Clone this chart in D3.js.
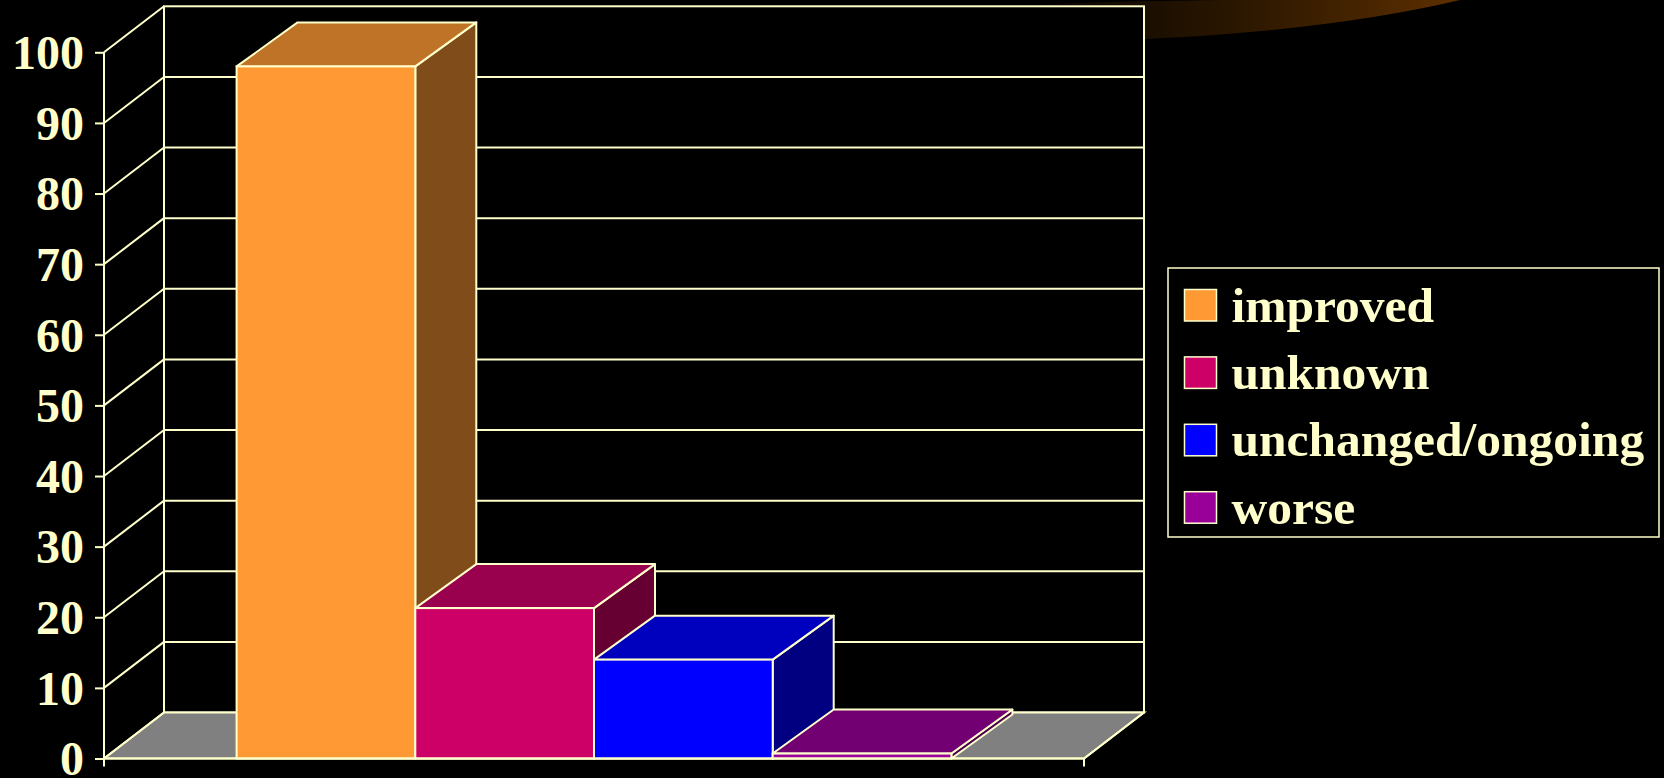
<!DOCTYPE html>
<html>
<head>
<meta charset="utf-8">
<script src="https://cdn.jsdelivr.net/npm/d3@7"></script>
<style>
  html, body { margin: 0; padding: 0; background: #000; overflow: hidden; }
  svg { display: block; }
</style>
</head>
<body>
<svg id="chart" width="1664" height="778"></svg>
<script>
// ---- data ----
const categories = ["improved", "unknown", "unchanged/ongoing", "worse"];
const values = [98, 21.3, 14, 0.7];
const yTickValues = [0, 10, 20, 30, 40, 50, 60, 70, 80, 90, 100];
const frontColors = ["#FF9933", "#CC0066", "#0000FF", "#990099"];

// ---- setup ----
const svg = d3.select("#chart");
const cream = "#FFFFCC";
const LW = 2;

// decorative background swoosh (top right)
const defs = svg.append("defs");
const grad = defs.append("linearGradient").attr("id", "swoosh")
  .attr("x1", "0%").attr("x2", "100%").attr("y1", "0%").attr("y2", "0%");
grad.append("stop").attr("offset", "0%").attr("stop-color", "#0a0000");
grad.append("stop").attr("offset", "12%").attr("stop-color", "#120a00");
grad.append("stop").attr("offset", "45%").attr("stop-color", "#2a1600");
grad.append("stop").attr("offset", "80%").attr("stop-color", "#4a2600");
grad.append("stop").attr("offset", "100%").attr("stop-color", "#5e3000");
svg.append("path")
  .attr("d", "M1046,4 L1046,42 Q1300,38 1460,0 L1230,0 Q1120,1 1046,4 Z")
  .attr("fill", "url(#swoosh)");

// scales
const xFront0 = 104, xFront1 = 1084;
const y = d3.scaleLinear().domain([0, 100]).range([758.5, 52.3]);
const x = d3.scaleBand().domain(categories).range([xFront0, xFront1])
  .paddingInner(0).paddingOuter(0.742);
const WDX = 60, WDY = -46;   // wall depth offset
const BDX = 61, BDY = -44;   // bar depth offset

const g = svg.append("g");
const line = (pts) => "M" + pts.map(p => p.join(",")).join("L") + "Z";
const open = (pts) => "M" + pts.map(p => p.join(",")).join("L");

// back wall
g.append("rect")
  .attr("x", xFront0 + WDX).attr("y", y(100) + WDY)
  .attr("width", xFront1 - xFront0).attr("height", y(0) - y(100))
  .attr("fill", "#000").attr("stroke", cream).attr("stroke-width", LW);

// floor
g.append("path")
  .attr("d", line([[xFront0, y(0)], [xFront1, y(0)], [xFront1 + WDX, y(0) + WDY], [xFront0 + WDX, y(0) + WDY]]))
  .attr("fill", "#808080").attr("stroke", cream).attr("stroke-width", LW);

// gridlines on back wall and left wall
yTickValues.forEach(v => {
  if (v > 0 && v < 100) {
    g.append("line")
      .attr("x1", xFront0 + WDX).attr("x2", xFront1 + WDX)
      .attr("y1", y(v) + WDY).attr("y2", y(v) + WDY)
      .attr("stroke", cream).attr("stroke-width", LW);
  }
  g.append("line")
    .attr("x1", xFront0).attr("y1", y(v))
    .attr("x2", xFront0 + WDX).attr("y2", y(v) + WDY)
    .attr("stroke", cream).attr("stroke-width", LW);
});

// front y axis
const yAxis = d3.axisLeft(y).tickValues(yTickValues).tickSize(9).tickPadding(11)
  .tickFormat(d3.format("d"));
const ax = g.append("g").attr("transform", `translate(${xFront0},0)`).call(yAxis);
ax.select(".domain").remove();
ax.selectAll(".tick line").attr("stroke", cream).attr("stroke-width", LW);
ax.selectAll(".tick text")
  .attr("fill", cream)
  .attr("font-family", "'Liberation Serif', 'Times New Roman', serif")
  .attr("font-weight", "bold")
  .attr("font-size", 48)
  .attr("dy", "0.34em");
g.append("line")
  .attr("x1", xFront0).attr("x2", xFront0)
  .attr("y1", y(100)).attr("y2", y(0) + 8)
  .attr("stroke", cream).attr("stroke-width", LW);

// bars (3D)
const shade = (c, k) => {
  const r = d3.rgb(c);
  return d3.rgb(r.r * k, r.g * k, r.b * k).toString();
};
categories.forEach((cat, i) => {
  const v = values[i];
  const x0 = x(cat), x1 = x(cat) + x.bandwidth();
  const yv = y(v), y0 = y(0);
  const col = frontColors[i];
  const bg = g.append("g");
  bg.append("path")
    .attr("d", line([[x1, yv], [x1 + BDX, yv + BDY], [x1 + BDX, y0 + BDY], [x1, y0]]))
    .attr("fill", shade(col, 0.5)).attr("stroke", cream).attr("stroke-width", LW)
    .attr("stroke-linejoin", "round");
  bg.append("path")
    .attr("d", line([[x0, yv], [x1, yv], [x1 + BDX, yv + BDY], [x0 + BDX, yv + BDY]]))
    .attr("fill", shade(col, 0.75)).attr("stroke", cream).attr("stroke-width", LW)
    .attr("stroke-linejoin", "round");
  bg.append("rect")
    .attr("x", x0).attr("y", yv).attr("width", x1 - x0).attr("height", y0 - yv)
    .attr("fill", col).attr("stroke", cream).attr("stroke-width", LW);
});

// front x axis edge + right depth edge
g.append("path")
  .attr("d", open([[xFront0, y(0)], [xFront1, y(0)], [xFront1 + WDX, y(0) + WDY]]))
  .attr("fill", "none").attr("stroke", cream).attr("stroke-width", LW);
g.append("line")
  .attr("x1", xFront1).attr("x2", xFront1).attr("y1", y(0)).attr("y2", y(0) + 8)
  .attr("stroke", cream).attr("stroke-width", LW);

// legend
const lg = svg.append("g");
lg.append("rect")
  .attr("x", 1168).attr("y", 268).attr("width", 491).attr("height", 269)
  .attr("fill", "#000").attr("stroke", cream).attr("stroke-width", 1.5);
categories.forEach((cat, i) => {
  const yy = 289.5 + i * 67.4;
  lg.append("rect")
    .attr("x", 1184.5).attr("y", yy).attr("width", 32).attr("height", 31.5)
    .attr("fill", frontColors[i]).attr("stroke", cream).attr("stroke-width", 1.5);
  lg.append("text")
    .attr("x", 1231.5).attr("y", yy + 32)
    .attr("fill", cream)
    .attr("font-family", "'Liberation Serif', 'Times New Roman', serif")
    .attr("font-weight", "bold")
    .attr("font-size", 49.5)
    .text(cat);
});
</script>
</body>
</html>
